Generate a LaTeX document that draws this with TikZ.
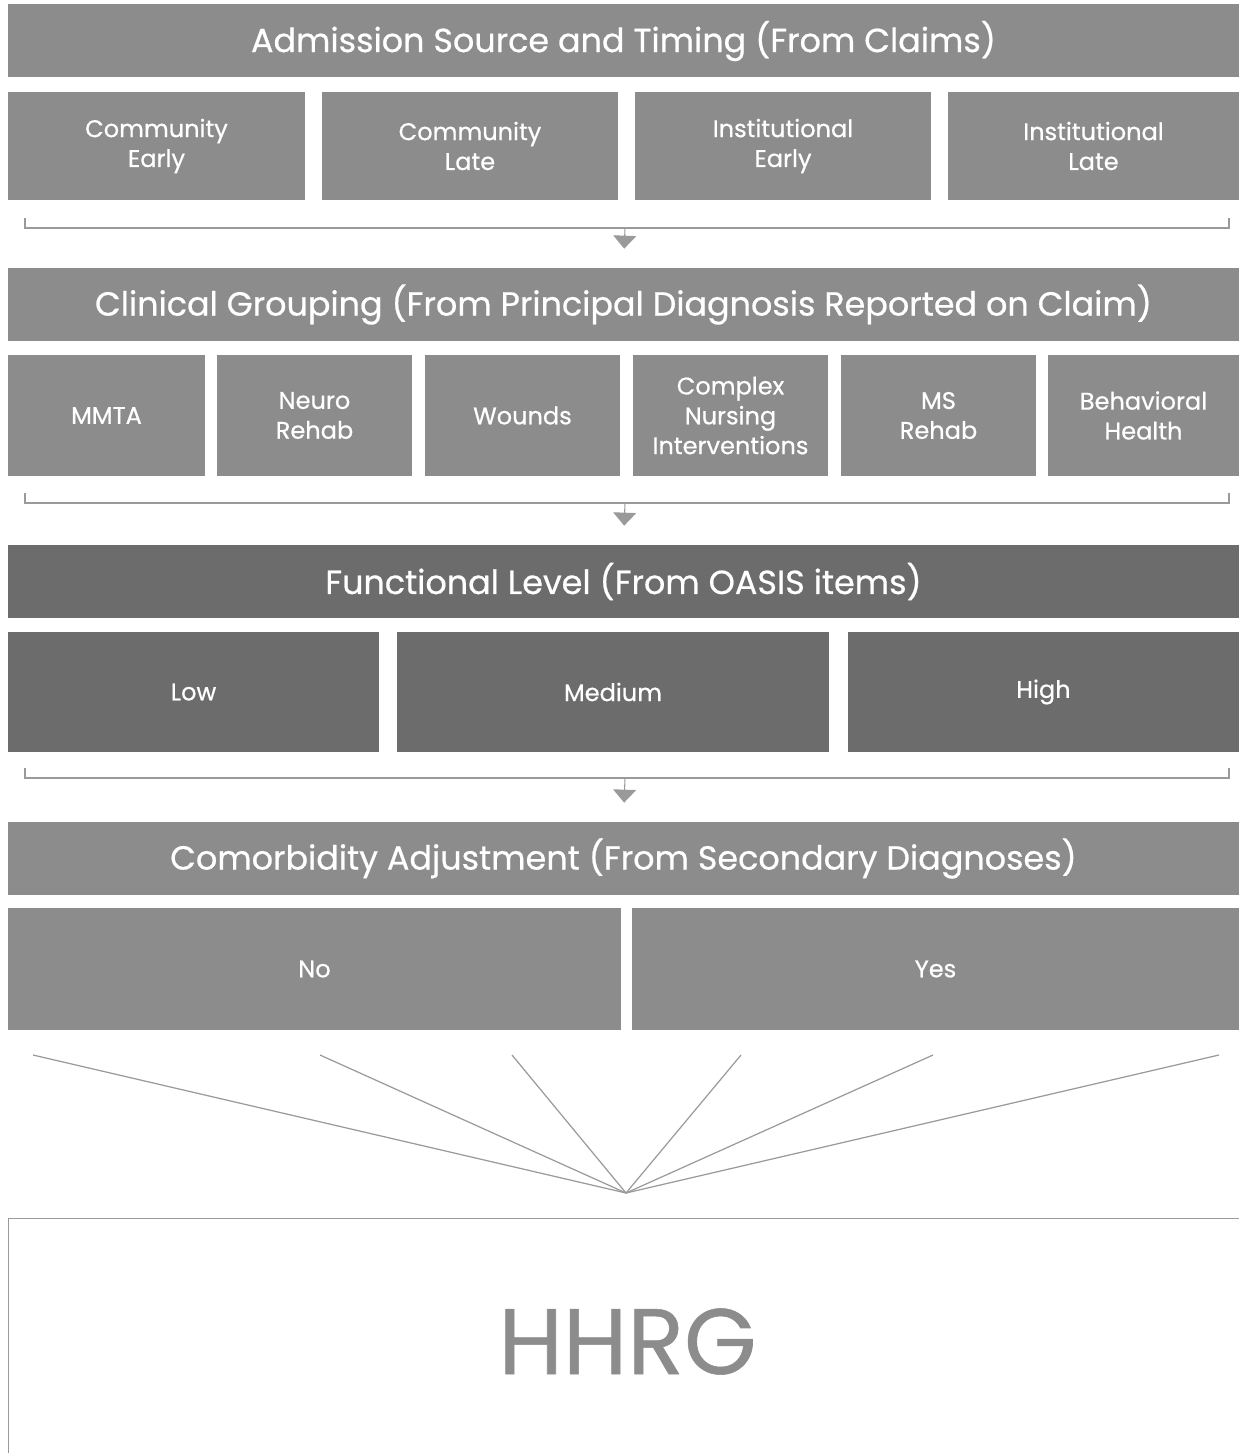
\documentclass[tikz,border=0pt]{standalone}
\usepackage{fontspec}
\setmainfont{Poppins}
\newfontfamily\medfont{Poppins}[FakeBold=0.6]
\usetikzlibrary{arrows.meta}

\definecolor{boxgray}{HTML}{8C8C8C}
\definecolor{boxdark}{HTML}{6C6C6C}
\definecolor{linegray}{HTML}{9A9A9A}
\newcommand{\px}{0.02cm}

\tikzset{
  head/.style={fill=#1, text=white, inner sep=0pt, minimum width=1231*\px,
    minimum height=73*\px, font=\medfont\fontsize{19}{22}\selectfont},
  cell/.style 2 args={fill=boxgray, text=white, inner sep=0pt, align=center,
    minimum width=#1*\px, minimum height=#2*\px,
    font=\medfont\fontsize{13.7}{17}\selectfont},
  bracket/.style={draw=linegray, line width=0.6pt},
  flow/.style={draw=linegray, line width=0.6pt,
    -{Triangle[width=0.46cm,length=0.26cm]}, shorten >=0.38cm},
  fan/.style={draw=linegray, line width=0.7pt},
}

\begin{document}
\begin{tikzpicture}[x=\px, y=-\px]

\useasboundingbox (0,0) rectangle (1239,1453);

%admission
\node[head=boxgray] (h1) at (623.5,41) {Admission Source and Timing (From Claims)};
\node[cell={297}{108}] (ce) at (156.5,146) {Community\\Early};
\node[cell={296}{108}] (cl) at (470,146) {Community\\Late};
\node[cell={296}{108}] (ie) at (783,146) {Institutional\\Early};
\node[cell={291}{108}] (il) at (1093.5,146) {Institutional\\Late};
\path[bracket] (25,218) -- (25,228) -- (1229,228) -- (1229,218);
\coordinate (b1) at (625,228);

%clinical
\node[head=boxgray] (h2) at (623.5,304.5) {Clinical Grouping (From Principal Diagnosis Reported on Claim)};
\node[cell={197}{121}] (mmta) at (106.5,415.5) {MMTA};
\node[cell={195}{121}] (neuro) at (314.5,415.5) {Neuro\\Rehab};
\node[cell={195}{121}] (wounds) at (522.5,415.5) {Wounds};
\node[cell={195}{121}] (cni) at (730.5,415.5) {Complex\\Nursing\\Interventions};
\node[cell={195}{121}] (ms) at (938.5,415.5) {MS\\Rehab};
\node[cell={191}{121}] (bh) at (1143.5,415.5) {Behavioral\\Health};
\path[bracket] (25,493) -- (25,503) -- (1229,503) -- (1229,493);
\coordinate (b2) at (625,503);

%functional
\node[head=boxdark] (h3) at (623.5,581.5) {Functional Level (From OASIS items)};
\node[cell={371}{120}, fill=boxdark] (low) at (193.5,692) {Low};
\node[cell={432}{120}, fill=boxdark] (med) at (613,692) {Medium};
\node[cell={391}{120}, fill=boxdark] (high) at (1043.5,692) {High};
\path[bracket] (25,768) -- (25,778) -- (1229,778) -- (1229,768);
\coordinate (b3) at (625,778);

%comorbidity
\node[head=boxgray] (h4) at (623.5,858.5) {Comorbidity Adjustment (From Secondary Diagnoses)};
\node[cell={613}{122}] (no) at (314.5,969) {No};
\node[cell={607}{122}] (yes) at (935.5,969) {Yes};

\path[flow] (b1) -- (h2.north);
\path[flow] (b2) -- (h3.north);
\path[flow] (b3) -- (h4.north);

%hhrg
\coordinate (apex) at (626,1193);
\foreach \x in {33,320,512,741,933,1219}
  \path[fan] (\x,1055) -- (apex);
\node[draw=linegray, line width=0.6pt, anchor=north west, inner sep=0pt,
  minimum width=1238*\px, minimum height=246*\px, text=boxgray,
  font=\medfont\fontsize{53}{58}\selectfont] (hhrg) at (8,1218) {HHRG};

\end{tikzpicture}
\end{document}
